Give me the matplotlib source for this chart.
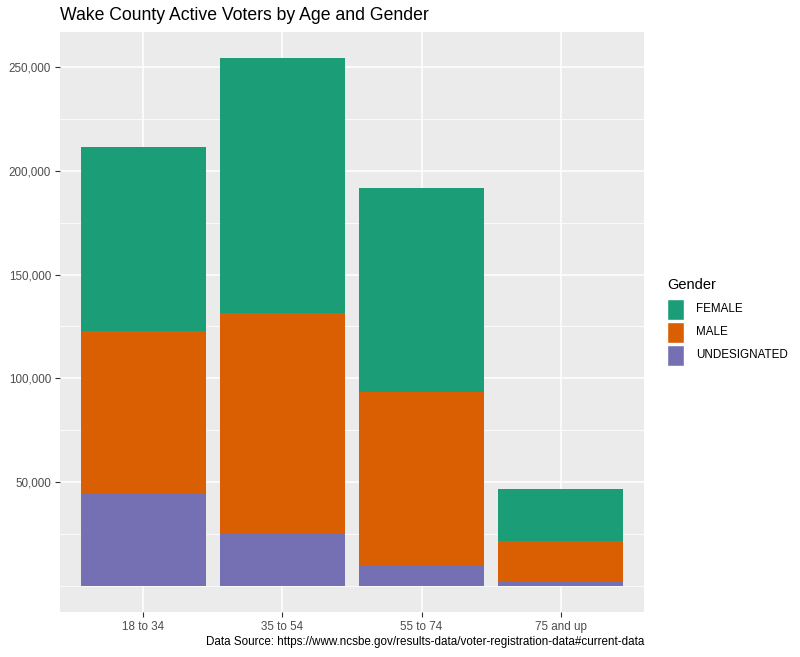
import numpy as np
import matplotlib.pyplot as plt
from matplotlib.patches import Rectangle
from matplotlib.ticker import FuncFormatter

plt.rcParams['font.family'] = ['Liberation Sans', 'DejaVu Sans']

# Data
age_groups = ['18 to 34', '35 to 54', '55 to 74', '75 and up']
undesignated = [44700, 25400, 10000, 2300]
male = [78100, 106000, 83400, 19300]
female = [88600, 122900, 98300, 25000]
genders = ['FEMALE', 'MALE', 'UNDESIGNATED']
colors = {'FEMALE': '#1B9E77', 'MALE': '#D95F02', 'UNDESIGNATED': '#7570B3'}

W, H = 800, 657
fig = plt.figure(figsize=(W / 100, H / 100), dpi=100)
# panel in pixels: x 60..644, y 32..612
ax = fig.add_axes([60 / W, 1 - 612 / H, (644 - 60) / W, (612 - 32) / H])
ax.set_facecolor('#EBEBEB')

x = np.arange(1, len(age_groups) + 1)
und = np.array(undesignated)
mal = np.array(male)
fem = np.array(female)
ax.bar(x, und, width=0.9, color=colors['UNDESIGNATED'], zorder=3)
ax.bar(x, mal, width=0.9, bottom=und, color=colors['MALE'], zorder=3)
ax.bar(x, fem, width=0.9, bottom=und + mal, color=colors['FEMALE'], zorder=3)

top = (und + mal + fem).max()
ax.set_xlim(0.4, len(age_groups) + 0.6)
ax.set_ylim(-0.05 * top, 1.05 * top)

ax.set_xticks(x)
ax.set_xticklabels(age_groups)
major = [50000, 100000, 150000, 200000, 250000]
ax.set_yticks(major)
ax.yaxis.set_major_formatter(FuncFormatter(lambda v, p: f'{int(v):,}'))
ax.set_yticks(np.arange(0, 275001, 25000)[[0, 1, 3, 5, 7, 9]], minor=True)
ax.set_xticks([], minor=True)

ax.grid(which='major', color='white', linewidth=1.1, zorder=0)
ax.grid(which='minor', axis='y', color='white', linewidth=0.55, zorder=0)
ax.tick_params(which='major', length=3.5, width=0.8, color='#333333',
               labelcolor='#4D4D4D', labelsize=8.4, pad=3)
ax.tick_params(which='minor', length=0)
for s in ax.spines.values():
    s.set_visible(False)
ax.set_axisbelow(True)

fig.text(60 / W, 1 - 15 / H, 'Wake County Active Voters by Age and Gender',
         fontsize=12.7, color='black', ha='left', va='center')
fig.text(644 / W, 1 - 642 / H,
         'Data Source: https://www.ncsbe.gov/results-data/voter-registration-data#current-data',
         fontsize=8.4, color='black', ha='right', va='center')

# legend
fig.text(667 / W, 1 - 285 / H, 'Gender', fontsize=10.5, ha='left', va='center')
for i, g in enumerate(genders):
    yc = 309 + i * 23
    fig.patches.append(Rectangle((667 / W, 1 - (yc + 11) / H), 17 / W, 21 / H,
                                 transform=fig.transFigure, facecolor=colors[g],
                                 edgecolor='white', linewidth=1.0))
    fig.text(696 / W, 1 - yc / H, g, fontsize=8.4, ha='left', va='center')

fig.savefig('out.png', dpi=100, facecolor='white')
